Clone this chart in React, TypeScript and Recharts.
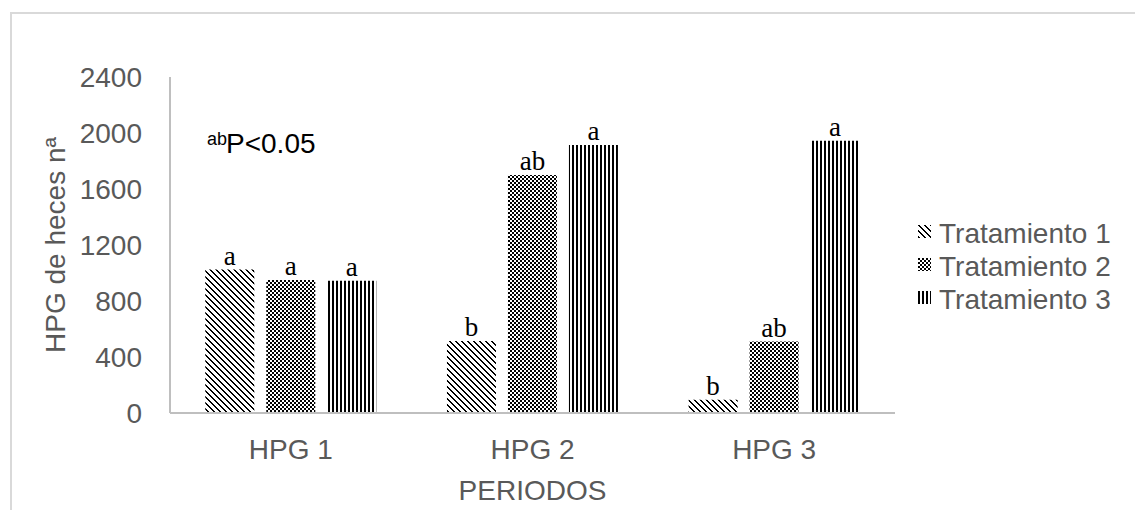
import React from 'react';
import { BarChart, Bar, XAxis, YAxis, Legend, LabelList } from 'recharts';

const categories = ['HPG 1', 'HPG 2', 'HPG 3'];
const tratamiento1 = [1025, 515, 95];
const tratamiento2 = [950, 1700, 510];
const tratamiento3 = [945, 1915, 1945];
const letras1 = ['a', 'b', 'b'];
const letras2 = ['a', 'ab', 'ab'];
const letras3 = ['a', 'a', 'a'];
const yTicks = [0, 400, 800, 1200, 1600, 2000, 2400];
const seriesNames = ['Tratamiento 1', 'Tratamiento 2', 'Tratamiento 3'];

const data = categories.map((periodo, i) => ({
  periodo,
  t1: tratamiento1[i],
  t2: tratamiento2[i],
  t3: tratamiento3[i],
  l1: letras1[i],
  l2: letras2[i],
  l3: letras3[i],
}));

const SANS = '"Liberation Sans", Arial, sans-serif';
const SERIF = '"Liberation Serif", "Times New Roman", serif';
const GREY = '#595959';
const FS = 28;

// pixel patterns, roughly like Excel's fill patterns
function Patterns({ prefix }: { prefix: string }) {
  const diag = [0, 1, 2, 3, 4, 5];
  return (
    <defs>
      <pattern id={`${prefix}1`} patternUnits="userSpaceOnUse" width="6" height="6">
        <rect width="6" height="6" fill="#fff" />
        {diag.map((i) => (
          <rect key={i} x={i} y={i} width="2" height="1" fill="#000" shapeRendering="crispEdges" />
        ))}
        <rect x="0" y="5" width="1" height="1" fill="#000" shapeRendering="crispEdges" />
      </pattern>
      <pattern id={`${prefix}2`} patternUnits="userSpaceOnUse" width="4" height="4">
        <rect width="4" height="4" fill="#fff" />
        <rect x="0" y="0" width="2" height="2" fill="#000" shapeRendering="crispEdges" />
        <rect x="2" y="2" width="2" height="2" fill="#000" shapeRendering="crispEdges" />
      </pattern>
      <pattern id={`${prefix}3`} patternUnits="userSpaceOnUse" width="4" height="4">
        <rect width="4" height="4" fill="#fff" />
        <rect x="0" y="0" width="2" height="4" fill="#000" shapeRendering="crispEdges" />
      </pattern>
    </defs>
  );
}

const renderLegend = () => (
  <div style={{ fontFamily: SANS, fontSize: FS, color: GREY }}>
    <svg width="0" height="0" style={{ position: 'absolute' }}>
      <Patterns prefix="lg" />
    </svg>
    {seriesNames.map((name, i) => (
      <div key={name} style={{ height: 33, lineHeight: '33px', whiteSpace: 'nowrap', position: 'relative' }}>
        <svg width="13" height="13" style={{ position: 'absolute', left: 0, top: 8 }}>
          <rect width="13" height="13" fill={`url(#lg${i + 1})`} />
        </svg>
        <span style={{ position: 'absolute', left: 21, top: 0 }}>{name}</span>
      </div>
    ))}
  </div>
);

// y-axis title, rotated, baseline on the right at x=65
const YTitle = ({ viewBox }: any) => {
  const cy = viewBox.y + viewBox.height / 2;
  return (
    <text
      transform={`translate(65,${cy}) rotate(-90)`}
      textAnchor="middle"
      fill={GREY}
      fontSize={FS}
      fontFamily={SANS}
    >
      HPG de heces nª
    </text>
  );
};

export default function App() {
  return (
    <div style={{ position: 'absolute', left: 0, top: 0, width: 1135, height: 510, background: '#fff', overflow: 'hidden' }}>
      <div
        style={{
          position: 'absolute',
          left: 10,
          top: 12,
          width: 1200,
          height: 600,
          borderLeft: '2px solid #d9d9d9',
          borderTop: '2px solid #d9d9d9',
        }}
      />
      <svg width="0" height="0" style={{ position: 'absolute' }}>
        <Patterns prefix="pat" />
      </svg>
      <div style={{ position: 'absolute', left: 0, top: 0 }}>
        <BarChart
          width={1135}
          height={510}
          data={data}
          margin={{ top: 77, right: 240, bottom: 7, left: 30 }}
          barCategoryGap="14.6%"
          barGap={12}
        >
          <XAxis
            dataKey="periodo"
            height={90}
            tickLine={false}
            tickSize={0}
            tickMargin={26}
            axisLine={{ stroke: '#bfbfbf', strokeWidth: 2 }}
            tick={{ fill: GREY, fontSize: FS, fontFamily: SANS }}
            label={{
              value: 'PERIODOS',
              position: 'insideBottom',
              offset: 3,
              fill: GREY,
              fontSize: FS,
              fontFamily: SANS,
            }}
          />
          <YAxis
            width={140}
            domain={[0, 2400]}
            ticks={yTicks}
            interval={0}
            tickLine={false}
            tickSize={0}
            tickMargin={28}
            axisLine={{ stroke: '#bfbfbf', strokeWidth: 2 }}
            tick={{ fill: GREY, fontSize: FS, fontFamily: SANS }}
            label={{ content: YTitle }}
          />
          <Legend
            layout="horizontal"
            verticalAlign="middle"
            align="center"
            content={renderLegend}
            wrapperStyle={{ position: 'absolute', left: 918, top: 217, width: 217, height: 100 }}
          />
          <Bar dataKey="t1" name={seriesNames[0]} fill="url(#pat1)" isAnimationActive={false}>
            <LabelList dataKey="l1" position="top" offset={5} fill="#000" fontSize={27} fontFamily={SERIF} />
          </Bar>
          <Bar dataKey="t2" name={seriesNames[1]} fill="url(#pat2)" isAnimationActive={false}>
            <LabelList dataKey="l2" position="top" offset={5} fill="#000" fontSize={27} fontFamily={SERIF} />
          </Bar>
          <Bar dataKey="t3" name={seriesNames[2]} fill="url(#pat3)" isAnimationActive={false}>
            <LabelList dataKey="l3" position="top" offset={5} fill="#000" fontSize={27} fontFamily={SERIF} />
          </Bar>
        </BarChart>
      </div>
      <svg width="400" height="60" style={{ position: 'absolute', left: 0, top: 110 }}>
        <text x={207} y={35} fontSize={18} fill="#000" fontFamily={SANS}>ab</text>
        <text x={226} y={43} fontSize={FS} fill="#000" fontFamily={SANS}>P&lt;0.05</text>
      </svg>
    </div>
  );
}
